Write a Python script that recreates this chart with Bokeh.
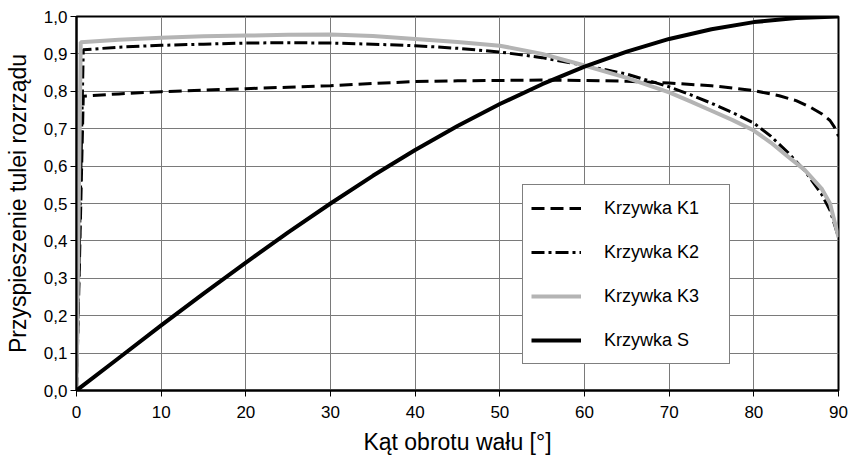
from bokeh.plotting import figure
from bokeh.models import (Range1d, FixedTicker, CustomJSTickFormatter, Legend,
                          LegendItem)
from bokeh.embed import file_html
from bokeh.resources import INLINE

# ---------------- data ----------------
x_k1 = [0, 0.8, 5, 10, 15, 20, 25, 30, 35, 40, 45, 50, 55, 60, 65, 70, 75,
        80, 83, 85, 86.7, 88, 89, 89.5, 90]
y_k1 = [0, 0.787, 0.793, 0.799, 0.803, 0.807, 0.811, 0.815, 0.821, 0.826,
        0.828, 0.829, 0.830, 0.829, 0.827, 0.822, 0.815, 0.802, 0.788, 0.775,
        0.757, 0.740, 0.722, 0.705, 0.680]

x_k2 = [0, 0.8, 5, 10, 15, 20, 25, 30, 35, 40, 45, 50, 55, 60, 65, 70, 72.5,
        75, 77.5, 80, 82, 84, 86, 88, 89, 90]
y_k2 = [0, 0.911, 0.918, 0.923, 0.926, 0.929, 0.930, 0.929, 0.926, 0.922,
        0.915, 0.905, 0.890, 0.869, 0.846, 0.812, 0.791, 0.768, 0.743, 0.715,
        0.680, 0.637, 0.588, 0.525, 0.482, 0.410]

x_k3 = [0, 0.5, 5, 10, 15, 20, 25, 30, 35, 40, 45, 50, 55, 60, 65, 70, 72.5,
        75, 77.5, 80, 82, 84, 86, 88, 89, 90]
y_k3 = [0, 0.931, 0.938, 0.943, 0.947, 0.949, 0.951, 0.952, 0.948, 0.940,
        0.932, 0.922, 0.900, 0.869, 0.836, 0.797, 0.773, 0.748, 0.723, 0.695,
        0.663, 0.626, 0.590, 0.540, 0.500, 0.410]

x_s = [0, 5, 10, 15, 20, 25, 30, 35, 40, 45, 50, 55, 60, 65, 70, 75, 80, 85,
       90]
y_s = [0, 0.087, 0.174, 0.259, 0.342, 0.423, 0.500, 0.574, 0.643, 0.707,
       0.766, 0.819, 0.866, 0.906, 0.940, 0.966, 0.985, 0.996, 1.000]

series_names = ["Krzywka K1", "Krzywka K2", "Krzywka K3", "Krzywka S"]

x_ticks = [0, 10, 20, 30, 40, 50, 60, 70, 80, 90]
x_labels = ["0", "10", "20", "30", "40", "50", "60", "70", "80", "90"]
y_ticks = [0.0, 0.1, 0.2, 0.3, 0.4, 0.5, 0.6, 0.7, 0.8, 0.9, 1.0]
y_labels = ["0,0", "0,1", "0,2", "0,3", "0,4", "0,5", "0,6", "0,7", "0,8",
            "0,9", "1,0"]

x_title = "Kąt obrotu wału [°]"
y_title = "Przyspieszenie tulei rozrządu"

# ---------------- figure ----------------
FONT = "Liberation Sans"

p = figure(frame_width=762, frame_height=374,
           min_border_left=76, min_border_right=11,
           min_border_top=16, min_border_bottom=68,
           x_range=Range1d(0, 90), y_range=Range1d(0, 1),
           output_backend="svg", toolbar_location=None,
           background_fill_color="white", border_fill_color="white")

p.outline_line_color = "black"
p.outline_line_width = 2

fmt_js = ("const i = tv.findIndex(t => Math.abs(t - tick) < 1e-9);"
          "return i >= 0 ? tl[i] : '';")
p.xaxis.ticker = FixedTicker(ticks=x_ticks)
p.xaxis.formatter = CustomJSTickFormatter(args=dict(tv=x_ticks, tl=x_labels), code=fmt_js)
p.yaxis.ticker = FixedTicker(ticks=y_ticks)
p.yaxis.formatter = CustomJSTickFormatter(args=dict(tv=y_ticks, tl=y_labels), code=fmt_js)

for ax in (p.xaxis[0], p.yaxis[0]):
    ax.axis_line_color = "black"
    ax.axis_line_width = 2
    ax.major_tick_line_color = "black"
    ax.major_tick_line_width = 1
    ax.major_tick_out = 6
    ax.major_tick_in = 0
    ax.minor_tick_line_color = None
    ax.major_label_text_font = FONT
    ax.major_label_text_font_size = "17px"
    ax.major_label_text_color = "black"
    ax.axis_label_text_font = FONT
    ax.axis_label_text_font_size = "23px"
    ax.axis_label_text_font_style = "normal"
    ax.axis_label_text_color = "black"

p.xaxis.axis_label = x_title
p.yaxis.axis_label = y_title
p.xaxis.major_label_standoff = 9
p.xaxis.axis_label_standoff = 8
p.yaxis.major_label_standoff = 3
p.yaxis.axis_label_standoff = 10

p.xgrid.ticker = FixedTicker(ticks=x_ticks)
p.ygrid.ticker = FixedTicker(ticks=y_ticks)
for g in (p.xgrid[0], p.ygrid[0]):
    g.grid_line_color = "#7a7a7a"
    g.grid_line_width = 1

r_k1 = p.line(x_k1, y_k1, line_color="black", line_width=3, line_dash="13 6")
r_k2 = p.line(x_k2, y_k2, line_color="black", line_width=3, line_dash="13 4 3 4")
r_k3 = p.line(x_k3, y_k3, line_color="#b4b4b4", line_width=4)
r_s = p.line(x_s, y_s, line_color="black", line_width=4)

legend = Legend(items=[LegendItem(label=n, renderers=[r])
                       for n, r in zip(series_names, [r_k1, r_k2, r_k3, r_s])],
                location=(446, 26), orientation="vertical",
                padding=8, spacing=14, glyph_width=50, glyph_height=30,
                label_height=30, label_standoff=23, label_width=117,
                label_text_font=FONT, label_text_font_size="18px",
                label_text_color="black",
                border_line_color="black", border_line_width=1.5,
                background_fill_color="white", background_fill_alpha=1.0,
                margin=0)
p.add_layout(legend, "center")

open("out.html", "w").write(file_html(p, INLINE))
